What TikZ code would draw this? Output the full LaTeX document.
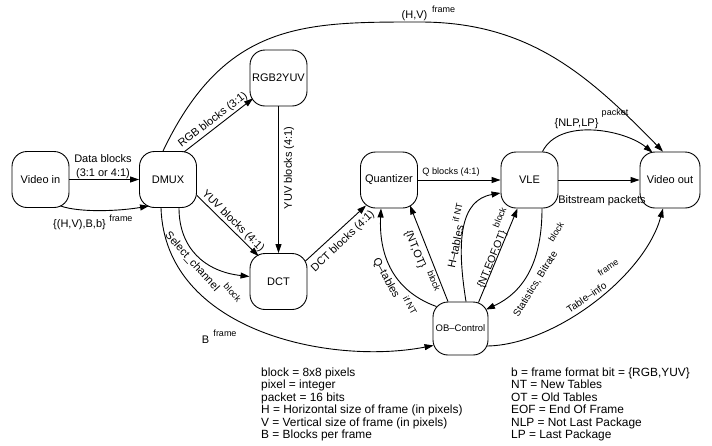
\documentclass[tikz,border=0pt]{standalone}
\usepackage{fontspec}
\setmainfont{Liberation Sans}
\usetikzlibrary{arrows.meta,calc}
\begin{document}
\begin{tikzpicture}[x=1pt,y=-1pt,
 blk/.style={draw,line width=0.9pt,rounded corners=15pt,minimum width=57pt,minimum height=56pt,inner sep=2pt,font=\fontsize{11}{13}\selectfont},
 con/.style={line width=0.9pt,-{Triangle[length=9pt,width=6pt]}},
 lab/.style={inner sep=0pt,font=\fontsize{11}{13}\selectfont},
 suplab/.style={inner sep=0pt,font=\fontsize{9}{10}\selectfont},
 note/.style={inner sep=0pt,anchor=north west,align=left,font=\fontsize{11.9}{12.5}\selectfont}]
\fill[white] (0,0) rectangle (712,445);
\useasboundingbox (0,0) rectangle (712,445);
% nodes
\node[blk] (vin) at (40.5,179.5) {Video in};
\node[blk] (dmux) at (168,179.5) {DMUX};
\node[blk] (rgb) at (278.5,78) {RGB2YUV};
\node[blk] (dct) at (278.5,281.5) {DCT};
\node[blk] (quant) at (389,180) {Quantizer};
\node[blk] (vle) at (529.5,180) {VLE};
\node[blk,minimum width=60pt] (vout) at (670,180) {Video out};
\node[blk,minimum width=55pt,minimum height=53pt,font=\fontsize{9.5}{11}\selectfont] (obc) at (460.5,328.5) {OB–Control};
\coordinate (htop) at (420,22);
% connectors
\draw[con] (vin.east) -- (dmux.west);
\draw[con] ($(vin.south east)+(-9,-2)$) .. controls +(20,7) and +(-29,5) .. ($(dmux.south west)+(10,-2)$);
\draw[con] ($(dmux.north east)+(-13,1)$) -- ($(rgb.south west)+(3.5,-8)$);
\draw[con] ($(dmux.north)+(-5,0)$) .. controls +(62,-130) and +(-115,0) .. (htop)
   .. controls +(110,0) and +(-73.6,-75.2) .. ($(vout.north)+(-7,0)$);
\draw[con] (rgb.south) -- (dct.north);
\draw[con] ($(dmux.east)+(0,16)$) -- ($(dct.north west)+(9,3)$);
\draw[con] ($(dmux.south)+(11,0)$) .. controls +(0,40) and +(-45,-5) .. ($(dct.west)+(0,-5)$);
\draw[con] ($(dmux.south)+(-7,0)$) .. controls +(4,123) and +(-104,20) .. ($(obc.south west)+(1,-10)$);
\draw[con] ($(dct.north east)+(-2,8)$) -- ($(quant.south west)+(6,-3)$);
\draw[con] (quant) -- (vle);
\draw[con] (vle) -- (vout);
\draw[con] ($(vle.north)+(13,0)$) .. controls +(17,-34) and +(-28,-23) .. ($(vout.north west)+(13,1)$);
\draw[con] ($(obc.north west)+(4,5)$) .. controls +(-47,-17) and +(-2,42) .. ($(quant.south)+(-8,0)$);
\draw[con] ($(obc.north)+(-12.5,0)$) -- ($(quant.south east)+(-8,-3)$);
\draw[con] ($(obc.north)+(5.5,0)$) .. controls +(-10,-62) and +(-40,7) .. ($(vle.west)+(0,13)$);
\draw[con] ($(obc.north east)+(-10,1)$) -- ($(vle.south)+(-12,0)$);
\draw[con] ($(vle.south)+(12.5,0)$) .. controls +(0,52) and +(39,-18) .. ($(obc.north east)+(-2.5,8)$);
\draw[con] ($(obc.east)+(-1.5,17.5)$) .. controls +(68,-1) and +(-18,67) .. ($(vout.south)+(-7,0)$);
% labels
\node[lab,align=center,font=\fontsize{11}{14.5}\selectfont] (l1) at (103,166.5) {Data blocks\\(3:1 or 4:1)};
\node[lab] (l2) at (79.5,225) {\{(H,V),B,b\}};
\node[suplab] (s2) at (121,218) {frame};
\node[lab,rotate=37.5] (l3) at (213,120) {RGB blocks (3:1)};
\node[lab] (l4) at (414.5,16) {(H,V)};
\node[suplab] (s4) at (443.5,9.5) {frame};
\node[lab,rotate=90] (l5) at (289,168) {YUV blocks (4:1)};
\node[lab,rotate=-44.5] (l6) at (233,221) {YUV blocks (4:1)};
\node[lab,rotate=-48] (l7) at (192,262) {Select\_channel};
\node[suplab,rotate=-48] (s7) at (232.5,292.5) {block};
\node[lab] (l8) at (205.5,340) {B};
\node[suplab] (s8) at (225,333) {frame};
\node[lab,rotate=43.6] (l9) at (343,241.5) {DCT blocks (4:1)};
\node[lab,font=\fontsize{9.2}{11}\selectfont] (l10) at (451,172.5) {Q blocks (4:1)};
\node[lab] (l11) at (602,201) {Bitstream packets};
\node[lab] (l12) at (576.5,123.5) {\{NLP,LP\}};
\node[suplab] (s12) at (615,113) {packet};
\node[lab,rotate=-61.2] (l13) at (386,278) {Q–tables};
\node[suplab,rotate=-61.2] (s13) at (410,305) {if NT};
\node[lab,rotate=-67.7] (l14) at (415,249.5) {\{NT,OT\}};
\node[suplab,rotate=-67.7] (s14) at (434,281) {block};
\node[lab,rotate=78] (l15) at (455.5,246.7) {H–tables};
\node[suplab,rotate=78] (s15) at (457.5,212.5) {if NT};
\node[lab,rotate=67.7,font=\fontsize{10.5}{12}\selectfont] (l16) at (492.3,259.5) {\{NT,EOF,OT\}};
\node[suplab,rotate=67.7] (s16) at (499.5,217.5) {block};
\node[lab,rotate=58,font=\fontsize{10}{12}\selectfont] (l17) at (535.5,284) {Statistics, Bitrate};
\node[suplab,rotate=58] (s17) at (556,232) {block};
\node[lab,rotate=34,font=\fontsize{10}{12}\selectfont] (l18) at (586.5,297.5) {Table–info};
\node[suplab,rotate=34] (s18) at (608,267.5) {frame};
% legend
\node[note] (lega) at (261,367.5) {block = 8x8 pixels\\pixel = integer\\packet = 16 bits\\H = Horizontal size of frame (in pixels)\\V = Vertical size of frame (in pixels)\\B = Blocks per frame};
\node[note] (legb) at (511,367.5) {b = frame format bit = \{RGB,YUV\}\\NT = New Tables\\OT = Old Tables\\EOF = End Of Frame\\NLP = Not Last Package\\LP = Last Package};
\end{tikzpicture}
\end{document}
